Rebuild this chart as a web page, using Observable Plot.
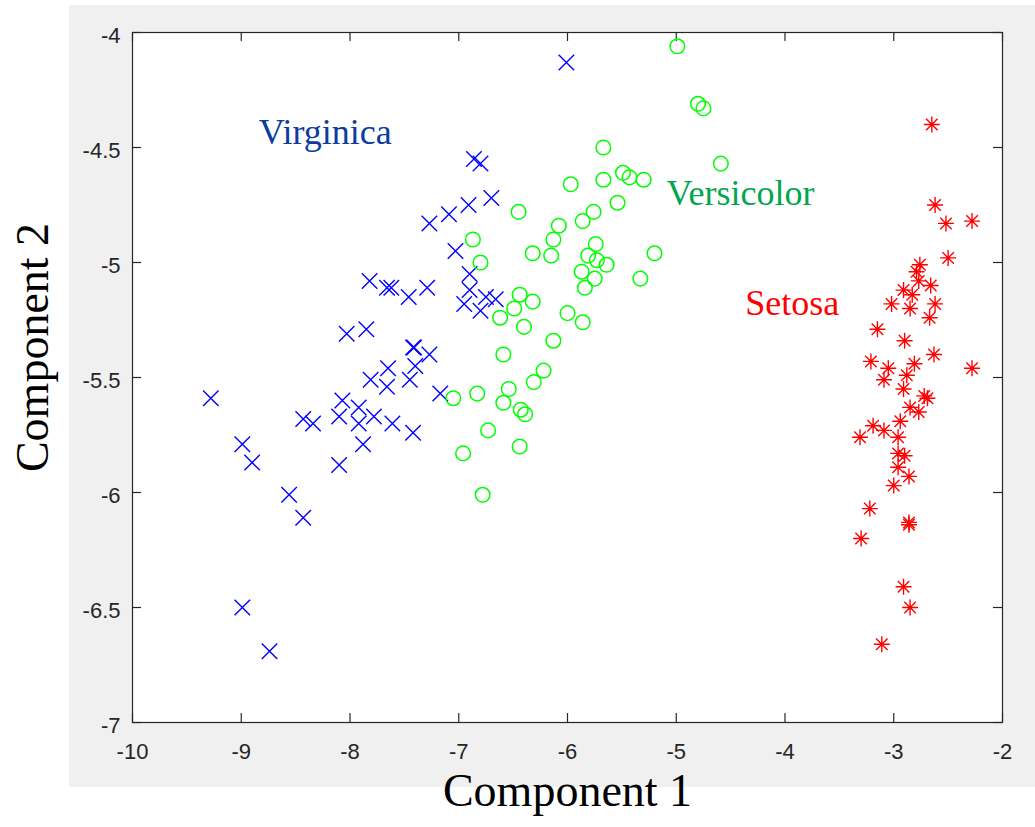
<!DOCTYPE html>
<html><head><meta charset="utf-8">
<script src="https://cdn.jsdelivr.net/npm/d3@7"></script>
<script src="https://cdn.jsdelivr.net/npm/@observablehq/plot@0.6"></script>
<style>
html,body{margin:0;padding:0;background:#fff;}
#wrap{position:relative;width:1035px;height:827px;overflow:hidden;}
#bg{position:absolute;left:69px;top:5px;width:966px;height:782px;background:#f0f0f0;}
#chart{position:absolute;left:0;top:0;}
</style></head><body>
<div id="wrap"><div id="bg"></div><div id="chart"></div></div>
<script>
// ---- data ----
const virginicaX = [-6.01,-6.86,-6.80,-6.70,-6.91,-7.09,-7.27,-7.03,-6.90,-6.90,-6.95,-6.80,-6.75,-6.66,-7.82,-7.66,-7.62,-7.46,-7.29,-8.03,-7.85,-7.42,-7.41,-7.27,-7.65,-7.40,-7.81,-7.66,-7.45,-7.17,-9.28,-8.07,-7.92,-7.78,-8.43,-8.34,-8.10,-7.92,-7.61,-7.42,-7.88,-8.99,-8.90,-8.10,-8.56,-8.43,-8.99,-8.74];
const virginicaY = [-4.13,-4.55,-4.57,-4.72,-4.75,-4.79,-4.83,-4.95,-5.05,-5.12,-5.18,-5.21,-5.15,-5.16,-5.08,-5.11,-5.11,-5.15,-5.11,-5.31,-5.29,-5.37,-5.37,-5.40,-5.46,-5.45,-5.51,-5.54,-5.51,-5.57,-5.59,-5.60,-5.63,-5.67,-5.68,-5.70,-5.67,-5.70,-5.70,-5.74,-5.79,-5.79,-5.87,-5.88,-6.01,-6.11,-6.50,-6.69];
const versicolorX = [-4.99,-4.80,-4.75,-4.59,-5.67,-5.49,-5.43,-5.30,-5.67,-5.97,-5.54,-6.45,-5.76,-5.86,-6.08,-6.87,-6.13,-6.32,-6.15,-5.74,-5.81,-5.73,-5.64,-5.20,-6.80,-5.87,-5.75,-5.33,-5.84,-6.44,-6.32,-6.49,-6.62,-6.40,-6.00,-5.86,-6.13,-6.59,-6.22,-6.31,-7.05,-6.83,-6.54,-6.59,-6.43,-6.39,-6.73,-6.44,-6.96,-6.78];
const versicolorY = [-4.06,-4.31,-4.33,-4.57,-4.50,-4.61,-4.63,-4.64,-4.64,-4.66,-4.74,-4.78,-4.78,-4.82,-4.84,-4.90,-4.90,-4.96,-4.97,-4.92,-4.97,-4.99,-5.01,-4.96,-5.00,-5.04,-5.07,-5.07,-5.11,-5.14,-5.17,-5.20,-5.24,-5.28,-5.22,-5.26,-5.34,-5.40,-5.47,-5.52,-5.59,-5.57,-5.55,-5.61,-5.64,-5.66,-5.73,-5.80,-5.83,-6.01];
const setosaX = [-2.65,-2.62,-2.52,-2.28,-2.50,-2.76,-2.77,-2.66,-2.91,-2.83,-3.02,-2.62,-2.85,-2.67,-3.15,-2.90,-2.63,-3.21,-3.05,-2.81,-2.28,-3.09,-2.88,-2.91,-2.72,-2.69,-2.85,-2.77,-2.94,-3.19,-3.09,-3.31,-2.96,-2.96,-2.90,-2.96,-2.86,-3.00,-3.22,-2.86,-2.86,-3.30,-2.91,-2.85,-3.11,-2.79];
const setosaY = [-4.40,-4.75,-4.83,-4.82,-4.98,-5.01,-5.08,-5.10,-5.12,-5.14,-5.18,-5.18,-5.20,-5.24,-5.29,-5.34,-5.40,-5.43,-5.46,-5.44,-5.46,-5.51,-5.49,-5.55,-5.58,-5.59,-5.63,-5.65,-5.69,-5.71,-5.73,-5.76,-5.76,-5.83,-5.84,-5.89,-5.93,-5.97,-6.07,-6.13,-6.14,-6.20,-6.41,-6.50,-6.66,-5.04];
const xTicks = [-10,-9,-8,-7,-6,-5,-4,-3,-2];
const yTicks = [-7,-6.5,-6,-5.5,-5,-4.5,-4];
const labelNames = ["Virginica","Versicolor","Setosa"];
const labelX = [-8.84,-5.09,-4.365];
const labelY = [-4.433,-4.702,-5.18];

// ---- build tables ----
const zip = (xs, ys) => xs.map((x, i) => ({x, y: ys[i]}));
const virginica = zip(virginicaX, virginicaY);
const versicolor = zip(versicolorX, versicolorY);
const setosa = zip(setosaX, setosaY);
const labels = labelNames.map((name, i) => ({name, x: labelX[i], y: labelY[i]}));
const labelColor = {Virginica: "#0c3c9e", Versicolor: "#00a650", Setosa: "#ff0000"};

// MATLAB-like 8-arm asterisk
const asterisk8 = {
  draw(ctx, size) {
    const r = Math.sqrt(size / Math.PI);
    const d = r * 0.72;
    ctx.moveTo(-r, 0); ctx.lineTo(r, 0);
    ctx.moveTo(0, -r); ctx.lineTo(0, r);
    ctx.moveTo(-d, -d); ctx.lineTo(d, d);
    ctx.moveTo(-d, d); ctx.lineTo(d, -d);
  }
};

const axisColor = "#262626";
const serif = "'Liberation Serif', 'Times New Roman', serif";
const chart = Plot.plot({
  width: 1035, height: 827,
  marginLeft: 132, marginRight: 33, marginTop: 32, marginBottom: 105,
  style: {background: "transparent", fontFamily: "'Liberation Sans', Arial, sans-serif", fontSize: "22px", color: axisColor, overflow: "visible"},
  x: {domain: [-10, -2], nice: false},
  y: {domain: [-7, -4], nice: false},
  marks: [
    Plot.frame({fill: "white", stroke: "none"}),
    Plot.axisX({ticks: xTicks, tickSize: 0, tickPadding: 21, tickFormat: d => String(d), label: null}),
    Plot.axisY({ticks: yTicks, tickSize: 0, tickPadding: 12, tickFormat: d => String(d), label: null, dy: 3}),
    Plot.tickX(xTicks, {x: d => d, insetTop: 681, stroke: axisColor, strokeWidth: 1.2}),
    Plot.tickX(xTicks, {x: d => d, insetBottom: 681, stroke: axisColor, strokeWidth: 1.2}),
    Plot.tickY(yTicks, {y: d => d, insetLeft: 861, stroke: axisColor, strokeWidth: 1.2}),
    Plot.tickY(yTicks, {y: d => d, insetRight: 861, stroke: axisColor, strokeWidth: 1.2}),
    Plot.dot(virginica, {x: "x", y: "y", symbol: "times", r: 7.1, stroke: "#0000ff", fill: "none", strokeWidth: 1.4}),
    Plot.dot(versicolor, {x: "x", y: "y", symbol: "circle", r: 7.3, stroke: "#00ff00", fill: "none", strokeWidth: 1.5}),
    Plot.dot(setosa, {x: "x", y: "y", symbol: asterisk8, r: 8, stroke: "#ff0000", fill: "none", strokeWidth: 1.4}),
    Plot.frame({stroke: axisColor, strokeWidth: 1.2}),
    Plot.text(labels, {x: "x", y: "y", text: "name", textAnchor: "start", fontSize: 36, fontFamily: serif, fill: d => labelColor[d.name]}),
    Plot.text(["Component 1"], {frameAnchor: "bottom", text: d => d, textAnchor: "middle", dy: 83, fontSize: 46, fontFamily: serif, fill: "black"}),
    Plot.text(["Component 2"], {frameAnchor: "left", text: d => d, textAnchor: "middle", rotate: -90, dx: -99, dy: -30, fontSize: 46, fontFamily: serif, fill: "black"})
  ]
});
document.getElementById("chart").appendChild(chart);
</script>
</body></html>
